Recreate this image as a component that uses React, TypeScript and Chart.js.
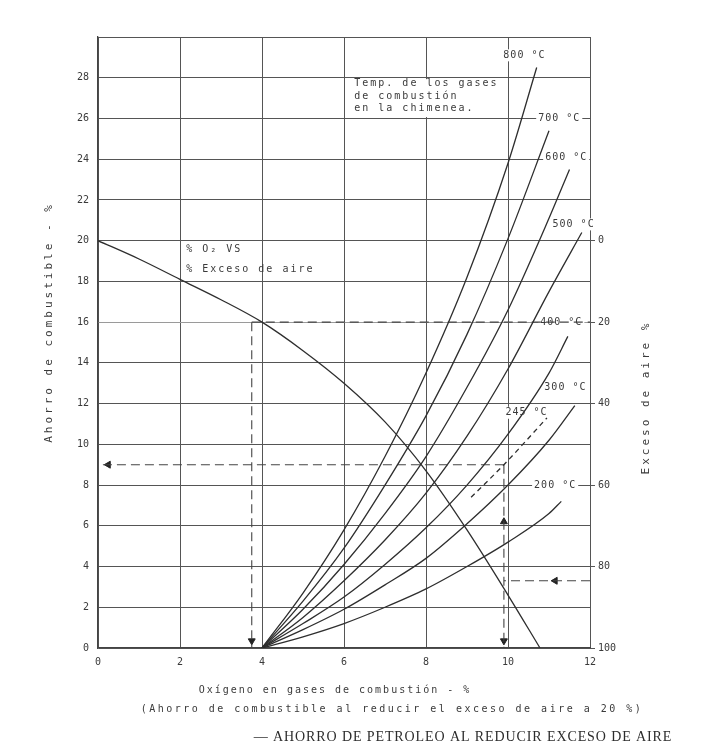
import React, { useEffect, useRef } from "react";
import { Chart, registerables } from "chart.js";

Chart.register(...registerables);

// ---------------- data ----------------
const xTickValues = [0, 2, 4, 6, 8, 10, 12];
const yGridValues = [0, 2, 4, 6, 8, 10, 12, 14, 16, 18, 20, 22, 24, 26, 28, 30];
const yTickLabels = ["0", "2", "4", "6", "8", "10", "12", "14", "16", "18", "20", "22", "24", "26", "28", ""];
const excessTickValues = [0, 20, 40, 60, 80, 100];

// % O2 vs % excess air curve (read on left scale)
const o2Oxygen = [0, 1, 2, 3, 4, 5, 6, 7, 8, 9, 10, 10.78];
const o2ExcessCurve = [20, 19.1, 18.1, 17.1, 16.0, 14.6, 13.0, 11.1, 8.7, 5.8, 2.6, 0];

// fuel saving curves by stack temperature: [O2 %, saving %]
const t800 = [[4, 0], [5, 2.7], [6, 5.8], [7, 9.4], [8, 13.5], [9, 18.2], [10, 23.8], [10.7, 28.5]];
const t700 = [[4, 0], [5, 2.3], [6, 4.9], [7, 8.0], [8, 11.4], [9, 15.4], [10, 20.1], [11, 25.4]];
const t600 = [[4, 0], [5, 1.9], [6, 4.1], [7, 6.6], [8, 9.4], [9, 12.8], [10, 16.6], [11, 21.1], [11.5, 23.5]];
const t500 = [[4, 0], [5, 1.5], [6, 3.3], [7, 5.3], [8, 7.6], [9, 10.4], [10, 13.7], [11, 17.5], [11.8, 20.4]];
const t400 = [[4, 0], [5, 1.2], [6, 2.5], [7, 4.1], [8, 5.9], [9, 8.0], [10, 10.5], [11, 13.5], [11.46, 15.3]];
const t300 = [[4, 0], [5, 0.9], [6, 1.9], [7, 3.1], [8, 4.4], [9, 6.1], [10, 8.0], [11, 10.2], [11.63, 11.9]];
const t245 = [[9.1, 7.4], [9.9, 9.0], [10.95, 11.3]];
const t200 = [[4, 0], [5, 0.55], [6, 1.2], [7, 2.0], [8, 2.9], [9, 4.0], [10, 5.2], [11, 6.6], [11.3, 7.2]];

// example reading guides (dashed)
const guide1V = [[3.75, 16], [3.75, 0]];
const guide1H = [[3.75, 16], [12, 16]];
const guide2H = [[9.9, 9.0], [0, 9.0]];
const guide2V = [[9.9, 9.0], [9.9, 0]];
const guide3H = [[12, 3.3], [9.9, 3.3]];
const arrowsLeft = [[0.25, 9.0], [11.15, 3.3]];
const arrowsDown = [[3.75, 0.35], [9.9, 0.35]];
const arrowsUp = [[9.9, 6.2]];

const tempLabels = [
  { text: "800 °C", x: 10.4, y: 29.1 },
  { text: "700 °C", x: 11.25, y: 26 },
  { text: "600 °C", x: 11.42, y: 24.1 },
  { text: "500 °C", x: 11.6, y: 20.8 },
  { text: "400 °C", x: 11.3, y: 16 },
  { text: "300 °C", x: 11.4, y: 12.8 },
  { text: "245 °C", x: 10.45, y: 11.55 },
  { text: "200 °C", x: 11.15, y: 8 },
];
const boxLines = ["Temp. de los gases", "de combustión", "en la chimenea."];
const boxLineY = [27.7, 27.1, 26.5];
const boxX = 6.25;
const noteLines = ["% O₂ VS", "% Exceso de aire"];
const noteLineY = [19.55, 18.6];
const noteX = 2.15;

const leftTitle = "Ahorro de combustible - %";
const rightTitle = "Exceso de aire %";
const xTitle1 = "Oxígeno en gases de combustión - %";
const xTitle2 = "(Ahorro de combustible al reducir el exceso de aire a 20 %)";
const caption = "— AHORRO DE PETROLEO AL REDUCIR EXCESO DE AIRE";

// ---------------- helpers ----------------
const MONO = '"DejaVu Sans Mono", monospace';
const INK = "#3a3a3a";
const pts = (arr: number[][]) => arr.map(([x, y]) => ({ x, y }));

const curve = (arr: number[][], dashed = false) => ({
  data: pts(arr),
  showLine: true,
  borderColor: "#2e2e2e",
  borderWidth: 1.3,
  pointRadius: 0,
  cubicInterpolationMode: "monotone" as const,
  borderDash: dashed ? [5, 4] : [],
  yAxisID: "y",
});

const guide = (arr: number[][]) => ({
  data: pts(arr),
  showLine: true,
  borderColor: "#444",
  borderWidth: 1.1,
  pointRadius: 0,
  borderDash: [9, 5],
  yAxisID: "y",
});

const arrows = (arr: number[][], rotation: number) => ({
  data: pts(arr),
  showLine: false,
  pointStyle: "triangle" as const,
  pointRadius: 4,
  rotation,
  backgroundColor: "#222",
  borderColor: "#222",
  borderWidth: 1,
  yAxisID: "y",
});

const textPlugin = {
  id: "chartTexts",
  beforeDraw(chart: any) {
    const { ctx, width, height } = chart;
    ctx.save();
    ctx.fillStyle = "#ffffff";
    ctx.fillRect(0, 0, width, height);
    ctx.restore();
  },
  beforeDatasetsDraw(chart: any) {
    const { ctx, scales } = chart;
    const xs = scales.x;
    const ys = scales.y;
    ctx.save();
    ctx.fillStyle = "#ffffff";
    // white box behind the temperature note
    const bx0 = xs.getPixelForValue(6.04);
    const bx1 = xs.getPixelForValue(9.92);
    const by0 = ys.getPixelForValue(27.93);
    const by1 = ys.getPixelForValue(26.07);
    ctx.fillRect(bx0, by0, bx1 - bx0, by1 - by0);
    // white backgrounds behind temperature labels
    ctx.font = `10px ${MONO}`;
    (ctx as any).letterSpacing = "1px";
    tempLabels.forEach((l) => {
      const w = ctx.measureText(l.text).width + 4;
      const px = xs.getPixelForValue(l.x);
      const py = ys.getPixelForValue(l.y);
      ctx.fillRect(px - w / 2, py - 6, w, 12);
    });
    ctx.restore();
  },
  afterDatasetsDraw(chart: any) {
    const { ctx, scales } = chart;
    const xs = scales.x;
    const ys = scales.y;
    ctx.save();
    ctx.fillStyle = INK;
    ctx.textBaseline = "middle";
    ctx.font = `10px ${MONO}`;
    (ctx as any).letterSpacing = "1px";
    ctx.textAlign = "center";
    tempLabels.forEach((l) => {
      ctx.fillText(l.text, xs.getPixelForValue(l.x), ys.getPixelForValue(l.y));
    });
    (ctx as any).letterSpacing = "2px";
    ctx.textAlign = "left";
    boxLines.forEach((t, i) => {
      ctx.fillText(t, xs.getPixelForValue(boxX), ys.getPixelForValue(boxLineY[i]));
    });
    noteLines.forEach((t, i) => {
      ctx.fillText(t, xs.getPixelForValue(noteX), ys.getPixelForValue(noteLineY[i]));
    });
    ctx.restore();
  },
  afterDraw(chart: any) {
    const { ctx, chartArea } = chart;
    ctx.save();
    ctx.fillStyle = INK;
    ctx.textBaseline = "middle";
    ctx.textAlign = "center";
    ctx.font = `11px ${MONO}`;
    (ctx as any).letterSpacing = "3px";
    // left title
    ctx.save();
    ctx.translate(49, (chartArea.top + chartArea.bottom) / 2 - 20);
    ctx.rotate(-Math.PI / 2);
    ctx.fillText(leftTitle, 0, 0);
    ctx.restore();
    // right title
    ctx.save();
    ctx.translate(chartArea.right + 56, (chartArea.top + chartArea.bottom) / 2 + 55);
    ctx.rotate(-Math.PI / 2);
    ctx.fillText(rightTitle, 0, 0);
    ctx.restore();
    // x titles
    ctx.font = `10px ${MONO}`;
    (ctx as any).letterSpacing = "2px";
    ctx.fillText(xTitle1, 335, chartArea.bottom + 42);
    ctx.font = `10px ${MONO}`;
    (ctx as any).letterSpacing = "2.5px";
    ctx.fillText(xTitle2, 392, chartArea.bottom + 61);
    // caption
    ctx.font = `14px "Liberation Serif", serif`;
    (ctx as any).letterSpacing = "0.9px";
    ctx.fillStyle = "#2c2c2c";
    ctx.fillText(caption, 463, chartArea.bottom + 89);
    ctx.restore();
  },
};

export default function App() {
  const ref = useRef<HTMLCanvasElement>(null);

  useEffect(() => {
    document.body.style.margin = "0";
    const canvas = ref.current;
    if (!canvas) return;

    const tickFont = { family: MONO, size: 10 };

    const chart = new Chart(canvas, {
      type: "scatter",
      data: {
        datasets: [
          {
            data: o2Oxygen.map((x, i) => ({ x, y: o2ExcessCurve[i] })),
            showLine: true,
            borderColor: "#2e2e2e",
            borderWidth: 1.3,
            pointRadius: 0,
            cubicInterpolationMode: "monotone",
            yAxisID: "y",
          },
          curve(t800),
          curve(t700),
          curve(t600),
          curve(t500),
          curve(t400),
          curve(t300),
          curve(t245, true),
          curve(t200),
          guide(guide1V),
          guide(guide1H),
          guide(guide2H),
          guide(guide2V),
          guide(guide3H),
          arrows(arrowsLeft, -90),
          arrows(arrowsDown, 180),
          arrows(arrowsUp, 0),
        ] as any,
      },
      options: {
        responsive: false,
        animation: false,
        devicePixelRatio: 1,
        layout: { padding: { top: 37, left: 0, right: 0, bottom: 0 } },
        plugins: {
          legend: { display: false },
          tooltip: { enabled: false },
          title: { display: false },
        },
        scales: {
          x: {
            type: "linear",
            min: 0,
            max: 12,
            afterBuildTicks: (s: any) => {
              s.ticks = xTickValues.map((v) => ({ value: v }));
            },
            afterFit: (s: any) => {
              s.height = 101;
            },
            grid: { color: "#555", lineWidth: 1, drawTicks: false },
            border: { color: "#444", width: 1.3 },
            ticks: { color: INK, font: tickFont, padding: 8, maxRotation: 0 },
          },
          y: {
            type: "linear",
            position: "left",
            min: 0,
            max: 30,
            afterBuildTicks: (s: any) => {
              s.ticks = yGridValues.map((v) => ({ value: v }));
            },
            afterFit: (s: any) => {
              s.width = 98;
            },
            grid: {
              color: (c: any) => (c.tick && c.tick.value === 16 ? "#9a9a9a" : "#555"),
              lineWidth: 1,
              drawTicks: false,
            },
            border: { color: "#444", width: 1.3 },
            ticks: {
              color: INK,
              font: tickFont,
              padding: 9,
              callback: (_v: any, i: number) => yTickLabels[i] ?? "",
            },
          },
          y2: {
            type: "linear",
            position: "right",
            min: -50,
            max: 100,
            reverse: true,
            afterBuildTicks: (s: any) => {
              s.ticks = excessTickValues.map((v) => ({ value: v }));
            },
            afterFit: (s: any) => {
              s.width = 118;
            },
            grid: { drawOnChartArea: false, drawTicks: true, tickLength: 5, color: "#555" },
            border: { display: false },
            ticks: { color: INK, font: tickFont, padding: 3 },
          },
        },
      },
      plugins: [textPlugin],
    } as any);

    return () => chart.destroy();
  }, []);

  return (
    <div style={{ width: 708, height: 749 }}>
      <canvas ref={ref} width={708} height={749} style={{ display: "block", width: 708, height: 749 }} />
    </div>
  );
}
